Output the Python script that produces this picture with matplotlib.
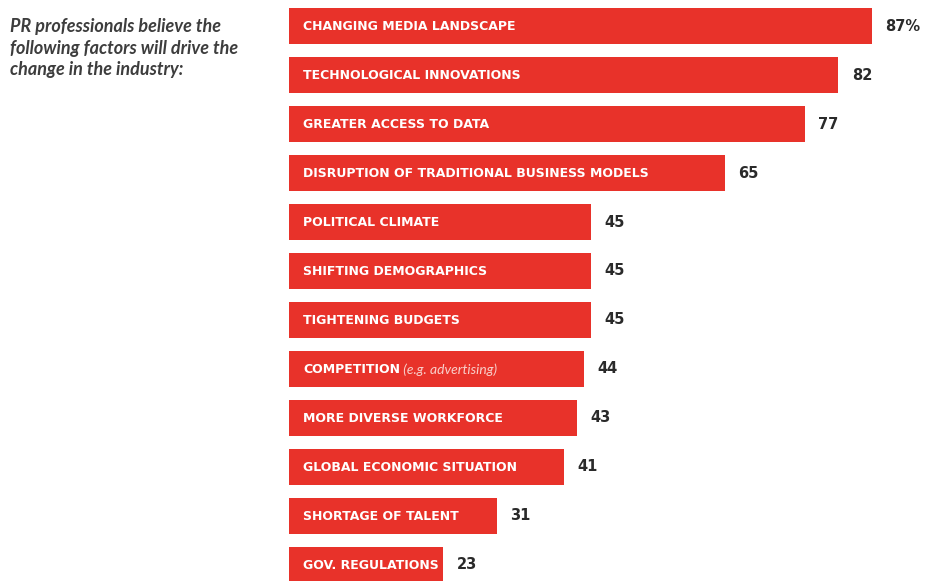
import matplotlib.pyplot as plt

# share of PR professionals naming each factor (%)
factors = ['CHANGING MEDIA LANDSCAPE', 'TECHNOLOGICAL INNOVATIONS', 'GREATER ACCESS TO DATA',
           'DISRUPTION OF TRADITIONAL BUSINESS MODELS', 'POLITICAL CLIMATE', 'SHIFTING DEMOGRAPHICS',
           'TIGHTENING BUDGETS', 'COMPETITION', 'MORE DIVERSE WORKFORCE',
           'GLOBAL ECONOMIC SITUATION', 'SHORTAGE OF TALENT', 'GOV. REGULATIONS']
notes = {'COMPETITION': ' (e.g. advertising)'}
values = [87, 82, 77, 65, 45, 45, 45, 44, 43, 41, 31, 23]
value_labels = ['87%', '82', '77', '65', '45', '45', '45', '44', '43', '41', '31', '23']

red = '#e8322a'
dark = '#2a2a2a'

fig = plt.figure(figsize=(9.25, 5.81), dpi=100)
ax = fig.add_axes([289 / 925, 0, 1 - 289 / 925, 1])
ax.set_xlim(0, (925 - 289) / 6.70)
ax.set_ylim(11.327, -0.531)
ax.axis('off')

ys = range(len(values))
ax.barh(ys, values, height=0.735, color=red, edgecolor='none')

for y, name, v, lab in zip(ys, factors, values, value_labels):
    t = ax.text(2.1, y + 0.02, name, color='white', fontsize=9, fontweight='heavy',
                va='center', ha='left', family='DejaVu Sans')
    if name in notes:
        ax.annotate(notes[name], xy=(1, 0.5), xycoords=t, va='center', ha='left',
                    color='#f8cfca', fontsize=10, style='italic', family='Lato')
    ax.text(v + 2.0, y, lab, color=dark, fontsize=10.5, fontweight='bold',
            va='center', ha='left', family='DejaVu Sans')

fig.text(10 / 925, 1 - 18 / 581,
         'PR professionals believe the\nfollowing factors will drive the\nchange in the industry:',
         ha='left', va='top', fontsize=13, style='italic', fontweight='bold',
         color='#3d3d3d', family='Lato', linespacing=1.33)

fig.savefig('out.png', dpi=100)
